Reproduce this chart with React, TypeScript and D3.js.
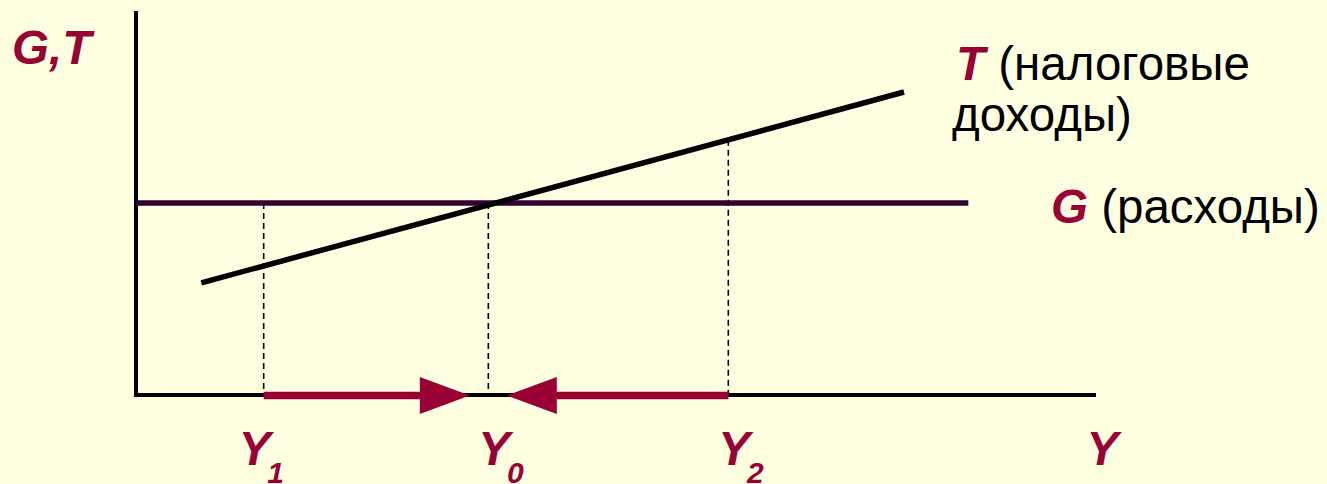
import React, { useEffect, useRef } from "react";
import * as d3 from "d3";

// ---- data (model units) ----
const incomeLevels = [13.3, 36.7, 61.7]; // Y1, Y0, Y2
const incomeNames = ["Y", "Y", "Y"];
const incomeSubs = ["1", "0", "2"];
const govSpending = 50; // G level
const govRange = [0, 86.7];
const taxPoints: [number, number][] = [
  [6.8, 29.2],
  [80, 78.9],
];
const arrows = [
  { from: 13.3, to: 36.7 },
  { from: 61.7, to: 36.7 },
];

const W = 1327;
const H = 484;
const MAROON = "#990033";
const FONT = "'Liberation Sans', Arial, Helvetica, sans-serif";
const FS = 47.5;

export default function App() {
  const ref = useRef<SVGSVGElement | null>(null);

  useEffect(() => {
    document.body.style.margin = "0";
    const svg = d3.select(ref.current);
    svg.selectAll("*").remove();

    const x = d3.scaleLinear().domain([0, 100]).range([136, 1096]);
    const y = d3.scaleLinear().domain([0, 100]).range([395, 11]);

    const taxAt = (v: number) => {
      const [[x0, t0], [x1, t1]] = taxPoints;
      return t0 + ((t1 - t0) * (v - x0)) / (x1 - x0);
    };

    svg.append("rect").attr("width", W).attr("height", H).attr("fill", "#FFFFE1");

    // dashed guide lines
    incomeLevels.forEach((v, i) => {
      const top = i === 2 ? taxAt(v) : govSpending;
      svg
        .append("line")
        .attr("x1", x(v))
        .attr("x2", x(v))
        .attr("y1", y(top))
        .attr("y2", y(0))
        .attr("stroke", "#000")
        .attr("stroke-width", 1.6)
        .attr("stroke-dasharray", "6,4");
    });

    // axes
    svg
      .append("path")
      .attr("d", `M${x(0)},${y(100)} L${x(0)},${y(0)} L${x(100)},${y(0)}`)
      .attr("fill", "none")
      .attr("stroke", "#000")
      .attr("stroke-width", 4);

    // G line
    svg
      .append("line")
      .attr("x1", x(govRange[0]))
      .attr("x2", x(govRange[1]))
      .attr("y1", y(govSpending))
      .attr("y2", y(govSpending))
      .attr("stroke", "#330033")
      .attr("stroke-width", 5.5);

    // T line
    const line = d3
      .line<[number, number]>()
      .x((d) => x(d[0]))
      .y((d) => y(d[1]));
    svg
      .append("path")
      .attr("d", line(taxPoints))
      .attr("fill", "none")
      .attr("stroke", "#000")
      .attr("stroke-width", 5.5);

    // arrows
    const gap = 18.5;
    const headLen = 50;
    const headHalf = 18.5;
    const ay = y(0) + 0.5;
    arrows.forEach((a) => {
      const dir = Math.sign(a.to - a.from);
      const tip = x(a.to) - dir * gap;
      const base = tip - dir * headLen;
      svg
        .append("line")
        .attr("x1", x(a.from))
        .attr("x2", base)
        .attr("y1", ay)
        .attr("y2", ay)
        .attr("stroke", MAROON)
        .attr("stroke-width", 7.5);
      svg
        .append("path")
        .attr("d", `M${base},${ay - headHalf} L${tip},${ay} L${base},${ay + headHalf} Z`)
        .attr("fill", MAROON);
    });

    // income labels
    const labelOffsets = [-25, -10, -10];
    incomeLevels.forEach((v, i) => {
      const t = svg
        .append("text")
        .attr("x", x(v) + labelOffsets[i])
        .attr("y", 465)
        .attr("font-family", FONT)
        .attr("font-weight", "bold")
        .attr("font-style", "italic")
        .attr("font-size", FS)
        .attr("fill", MAROON);
      t.append("tspan").text(incomeNames[i]);
      t.append("tspan").attr("font-size", 30).attr("dy", 18).attr("dx", -3).text(incomeSubs[i]);
    });

    // axis labels
    svg
      .append("text")
      .attr("x", x(99.0))
      .attr("y", 465)
      .attr("font-family", FONT)
      .attr("font-weight", "bold")
      .attr("font-style", "italic")
      .attr("font-size", FS)
      .attr("fill", MAROON)
      .text("Y");
    svg
      .append("text")
      .attr("x", 12)
      .attr("y", 64)
      .attr("font-family", FONT)
      .attr("font-weight", "bold")
      .attr("font-style", "italic")
      .attr("font-size", FS)
      .attr("fill", MAROON)
      .text("G,T");

    // series labels
    const tLab = svg
      .append("text")
      .attr("x", 956)
      .attr("y", 80)
      .attr("font-family", FONT)
      .attr("font-size", FS)
      .attr("fill", "#000");
    tLab.append("tspan").attr("font-weight", "bold").attr("font-style", "italic").attr("fill", MAROON).text("T");
    tLab.append("tspan").text(" (налоговые");
    svg
      .append("text")
      .attr("x", 952)
      .attr("y", 131)
      .attr("font-family", FONT)
      .attr("font-size", FS)
      .attr("fill", "#000")
      .text("доходы)");

    const gLab = svg
      .append("text")
      .attr("x", 1051)
      .attr("y", 223)
      .attr("font-family", FONT)
      .attr("font-size", FS)
      .attr("fill", "#000");
    gLab.append("tspan").attr("font-weight", "bold").attr("font-style", "italic").attr("fill", MAROON).text("G");
    gLab.append("tspan").text(" (расходы)");
  }, []);

  return (
    <div style={{ position: "absolute", left: 0, top: 0 }}>
      <svg ref={ref} width={W} height={H} style={{ display: "block" }} />
    </div>
  );
}
